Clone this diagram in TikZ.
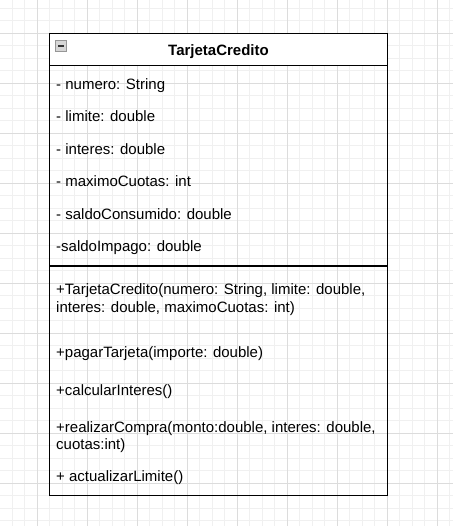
\documentclass[tikz,border=0pt]{standalone}
\usepackage{fontspec}
\setmainfont{Liberation Sans}
\usepackage{tikz}

\definecolor{minorgrid}{RGB}{240,240,240}
\definecolor{majorgrid}{RGB}{220,220,220}
\definecolor{iconfill}{RGB}{214,214,214}
\definecolor{iconedge}{RGB}{150,150,150}

\tikzset{
  minorline/.style={minorgrid, line width=1pt},
  majorline/.style={majorgrid, line width=1pt},
  classbox/.style={draw=black, line width=1.25pt},
  member/.style={anchor=base west, align=left, font=\fontsize{15}{17.4}\selectfont},
  classname/.style={anchor=base, font=\fontsize{15}{17.4}\selectfont\bfseries},
}

\begin{document}
\begin{tikzpicture}[x=1pt,y=1pt]
\tikzstyle{every node}+=[inner sep=0pt]
\useasboundingbox (0,0) rectangle (453,-526);
\fill [white] (0,0) rectangle (453,-526);
% grid
\begin{scope}
\clip (0,0) rectangle (453,-526);
\foreach \x in {-0.2,12.3,...,460} \draw [minorline] (\x,0) -- (\x,-526);
\foreach \y in {-8.3,-20.8,...,-530} \draw [minorline] (0,\y) -- (453,\y);
\foreach \x in {37.3,87.3,...,440} \draw [majorline] (\x,0) -- (\x,-526);
\foreach \y in {-33.3,-83.3,...,-490} \draw [majorline] (0,\y) -- (453,\y);
\end{scope}
% class box
\coordinate (boxnw) at (49.8,-33.3);
\coordinate (boxse) at (387.3,-495.8);
\coordinate (headw) at (49.8,-65.8);
\coordinate (heade) at (387.3,-65.8);
\coordinate (sepw) at (49.8,-266);
\coordinate (sepe) at (387.3,-266);
\fill [white] (boxnw) rectangle (heade);
\draw [classbox] (boxnw) rectangle (boxse);
\draw [classbox] (headw) -- (heade);
\draw [classbox] (sepw) -- (sepe);
% collapse icon
\draw [iconedge, fill=iconfill, line width=0.8pt] (55.5,-40.3) rectangle (66.3,-51);
\fill [black!80] (57.6,-44.6) rectangle (64.2,-46.9);
\node [classname] (title) at (218.5,-56) {TarjetaCredito};
% attributes
\node [member] (numero) at (56,-89.3) {- numero: String};
\node [member] (limite) at (56,-121.8) {- limite: double};
\node [member] (interes) at (56,-154.3) {- interes: double};
\node [member] (cuotas) at (56,-186.8) {- maximoCuotas: int};
\node [member] (consumido) at (56,-219.3) {- saldoConsumido: double};
\node [member] (impago) at (56,-251.8) {-saldoImpago: double};
% methods (two-line ones sit on their last baseline)
\node [member] (ctor) at (56,-312) {+TarjetaCredito(numero: String, limite: double,\\interes: double, maximoCuotas: int)};
\node [member] (pagar) at (56,-357) {+pagarTarjeta(importe: double)};
\node [member] (calcular) at (56,-395.3) {+calcularInteres()};
\node [member] (compra) at (56,-449.6) {+realizarCompra(monto:double, interes: double,\\cuotas:int)};
\node [member] (actualizar) at (56,-481.3) {+ actualizarLimite()};
\end{tikzpicture}
\end{document}
